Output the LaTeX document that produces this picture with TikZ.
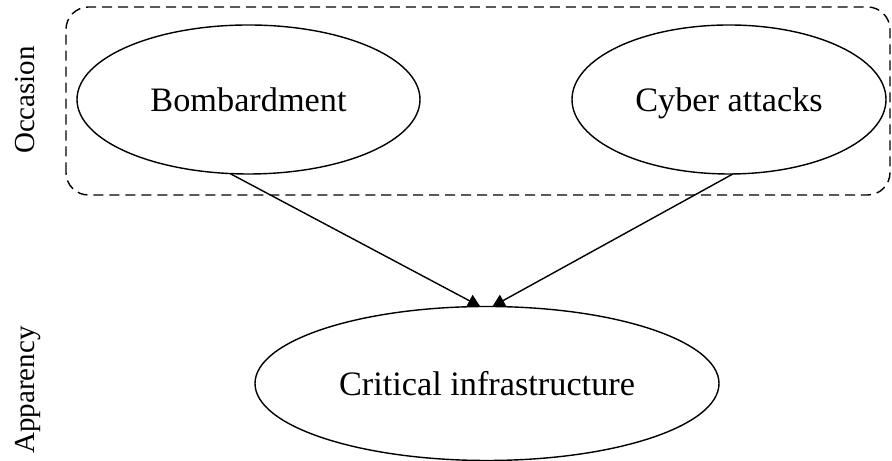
\documentclass[tikz,border=0pt]{standalone}
\usepackage{fontspec}
\setmainfont{Liberation Serif}
\usetikzlibrary{shapes.geometric,arrows.meta}

\begin{document}
\begin{tikzpicture}[
            every node/.style={text depth=0pt, inner sep=0pt, outer sep=0pt},
            oval/.style={ellipse, draw, line width=.8pt, font=\fontsize{19.5}{23}\selectfont},
            side/.style={rotate=90, font=\fontsize{16.5}{20}\selectfont},
            group/.style={draw, dashed, dash pattern=on 5.7pt off 3.4pt, line width=.8pt, rounded corners=.45cm},
            line/.style={line width=.8pt, -{Triangle[length=7pt, width=7.5pt]}},
            ]

        \useasboundingbox (0, 0) rectangle (17.84, 9.22);

        \draw[group] (1.32, 5.32) rectangle (17.8, 9.08);

        \node[oval, minimum width=6.86cm, minimum height=2.98cm] (bomb) at (4.97, 7.23) {Bombardment};
        \node[oval, minimum width=6.28cm, minimum height=2.98cm] (cyber) at (14.58, 7.23) {Cyber attacks};
        \node[oval, minimum width=9.28cm, minimum height=3.08cm] (crit) at (9.74, 1.55) {Critical infrastructure};

        \node[side] (occ) at (0.5, 7.22) {Occasion};
        \node[side] (app) at (0.5, 1.42) {Apparency};

        \draw[line] (bomb.256) -- (crit.95);
        \draw[line] (cyber.273) -- (crit.86);
    \end{tikzpicture}
\end{document}
